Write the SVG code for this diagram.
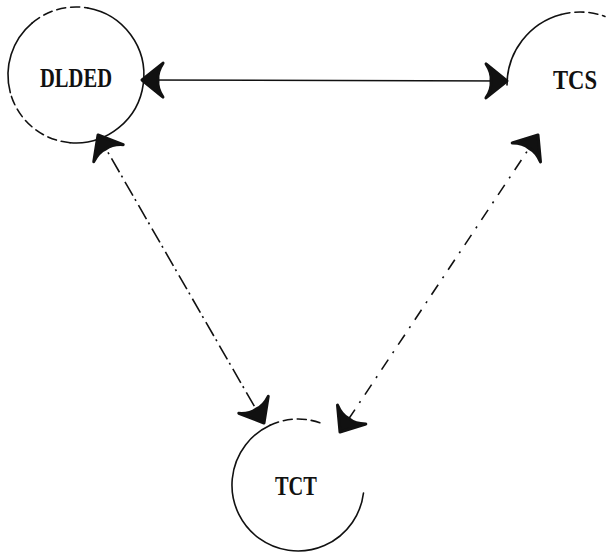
<svg xmlns="http://www.w3.org/2000/svg" width="614" height="554" viewBox="0 0 614 554">
<defs>
<style>
.ring{fill:none;stroke:#111;stroke-width:1.6;stroke-linecap:round}
.dash{stroke-dasharray:9,5}
.lbl{font-family:"Liberation Serif","Times New Roman",serif;font-weight:bold;font-size:27px;fill:#111;text-anchor:middle}
.edge{fill:none;stroke:#111;stroke-width:1.6}
.dd1{stroke-dasharray:16,4,2,5}
.dd2{stroke-dasharray:12,8,2,8}
</style>
<marker id="ah" viewBox="-26 -22 30 44" markerWidth="30" markerHeight="44" refX="0" refY="0" orient="auto-start-reverse" markerUnits="userSpaceOnUse">
<path d="M0,0 L-21,-17 Q-15,-8 -16,0 Q-15,8 -21,17 Z" fill="#111" stroke="#111" stroke-width="3" stroke-linejoin="round"/>
</marker>
</defs>
<g id="connectors">
<path class="edge" d="M142,80 L507,81" stroke-width="2" marker-start="url(#ah)" marker-end="url(#ah)"/>
<path class="edge dd1" d="M98,135 L264,423" marker-start="url(#ah)" marker-end="url(#ah)"/>
<path class="edge dd2" d="M538,135 L340,432" marker-start="url(#ah)" marker-end="url(#ah)"/>
</g>
<g id="DLDED">
<path class="ring" d="M87.8,8 A68,68 0 0 1 70.1,142.7"/>
<path class="ring dash" d="M70.1,142.7 A68,68 0 0 1 10.3,92.6"/>
<path class="ring" d="M10.3,92.6 A68,68 0 0 1 32.3,22.9"/>
<path class="ring dash" d="M32.3,22.9 A68,68 0 0 1 87.8,8"/>
<text class="lbl" x="76" y="87" textLength="72" lengthAdjust="spacingAndGlyphs">DLDED</text>
</g>
<g id="TCS">
<path class="ring" d="M507,85 A73,73 0 0 1 561.1,14.5"/>
<path class="ring dash" d="M561.1,14.5 A73,73 0 0 1 605,16.4"/>
<text class="lbl" x="575" y="89" textLength="44" lengthAdjust="spacingAndGlyphs">TCS</text>
</g>
<g id="TCT">
<path class="ring" d="M363.5,493 A66,66 0 1 1 270.1,425.2"/>
<path class="ring dash" d="M270.1,425.2 A66,66 0 0 1 320.6,423"/>
<text class="lbl" x="296" y="495" textLength="42" lengthAdjust="spacingAndGlyphs">TCT</text>
</g>
</svg>
